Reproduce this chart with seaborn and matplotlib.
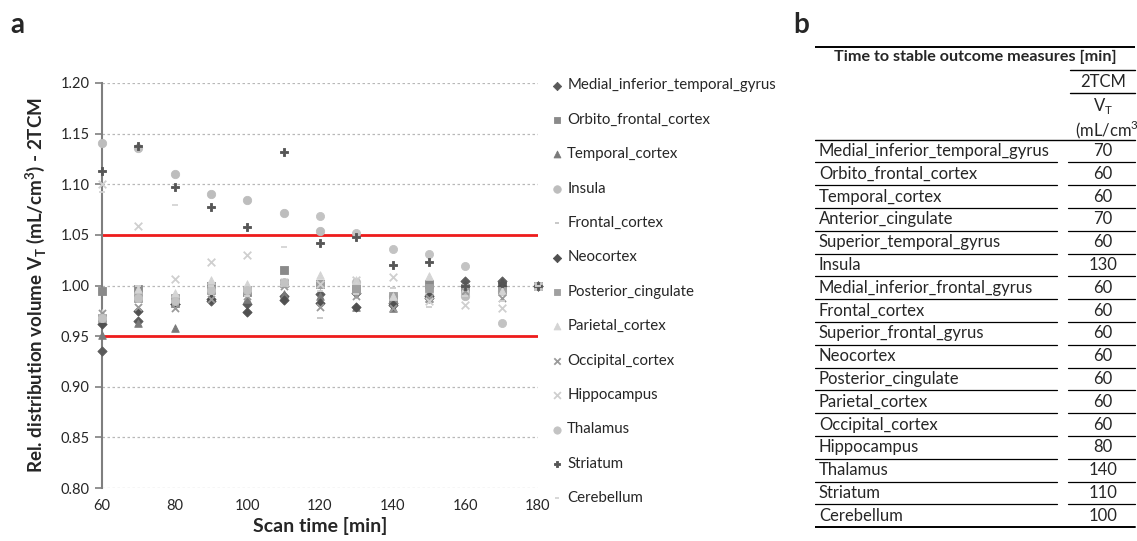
import numpy as np
import pandas as pd
import matplotlib
matplotlib.use("Agg")
import matplotlib.pyplot as plt
import seaborn as sns

# ---------------- data ----------------
scan_time = [60, 70, 80, 90, 100, 110, 120, 130, 140, 150, 160, 170, 180]

regions = ["Medial_inferior_temporal_gyrus", "Orbito_frontal_cortex", "Temporal_cortex",
           "Insula", "Frontal_cortex", "Neocortex", "Posterior_cingulate", "Parietal_cortex",
           "Occipital_cortex", "Hippocampus", "Thalamus", "Striatum", "Cerebellum"]

medial_inferior_temporal_gyrus = [0.935, 0.965, 0.982, 0.985, 0.982, 0.990, 0.992, 0.993, 0.983, 0.988, 1.004, 1.004, 1.000]
orbito_frontal_cortex = [0.995, 0.997, 0.983, 1.000, 0.994, 1.015, 1.001, 0.997, 0.986, 1.001, 0.998, 0.997, 1.000]
temporal_cortex = [0.951, 0.963, 0.958, 0.990, 0.987, 0.992, 0.990, 0.979, 0.978, 0.988, 0.997, 1.000, 1.000]
insula = [1.141, 1.136, 1.110, 1.090, 1.084, 1.072, 1.054, 1.003, 0.990, 0.991, 0.990, 0.995, 1.000]
frontal_cortex = [0.970, 0.990, 0.990, 0.995, 0.995, 1.000, 0.968, 0.995, 0.998, 0.979, 0.990, 0.985, 1.000]
neocortex = [0.962, 0.975, 0.982, 0.987, 0.974, 0.986, 0.983, 0.979, 0.981, 0.990, 1.000, 1.000, 1.000]
posterior_cingulate = [0.968, 0.988, 0.988, 0.996, 0.996, 1.002, 1.001, 0.997, 0.990, 0.998, 0.998, 0.995, 1.000]
parietal_cortex = [0.973, 0.997, 0.993, 1.005, 1.001, 1.003, 1.010, 1.005, 0.990, 1.009, 0.998, 0.995, 1.000]
occipital_cortex = [0.973, 0.979, 0.978, 0.987, 0.990, 1.000, 0.979, 0.990, 0.978, 0.988, 0.995, 0.988, 1.000]
hippocampus = [1.100, 1.059, 1.006, 1.023, 1.030, 1.003, 1.001, 1.005, 1.008, 0.985, 0.981, 0.978, 1.000]
thalamus = [0.968, 0.988, 0.985, 0.996, 0.996, 1.003, 1.069, 1.052, 1.036, 1.031, 1.019, 0.963, 1.000]
striatum = [1.113, 1.138, 1.097, 1.078, 1.058, 1.132, 1.042, 1.048, 1.020, 1.023, 1.000, 1.002, 1.000]
cerebellum = [1.092, 1.000, 1.080, 1.000, 0.990, 1.038, 0.995, 0.992, 0.998, 0.979, 0.990, 0.985, 1.000]

series_values = [medial_inferior_temporal_gyrus, orbito_frontal_cortex, temporal_cortex, insula,
                 frontal_cortex, neocortex, posterior_cingulate, parietal_cortex, occipital_cortex,
                 hippocampus, thalamus, striatum, cerebellum]

y_ticks = [0.80, 0.85, 0.90, 0.95, 1.00, 1.05, 1.10, 1.15, 1.20]
x_ticks = [60, 80, 100, 120, 140, 160, 180]
limits = [0.95, 1.05]

table_regions = ["Medial_inferior_temporal_gyrus", "Orbito_frontal_cortex", "Temporal_cortex",
                 "Anterior_cingulate", "Superior_temporal_gyrus", "Insula",
                 "Medial_inferior_frontal_gyrus", "Frontal_cortex", "Superior_frontal_gyrus",
                 "Neocortex", "Posterior_cingulate", "Parietal_cortex", "Occipital_cortex",
                 "Hippocampus", "Thalamus", "Striatum", "Cerebellum"]
table_values = [70, 60, 60, 70, 60, 130, 60, 60, 60, 60, 60, 60, 60, 80, 140, 110, 100]

# ---------------- styles ----------------
marker_styles = {
    "Medial_inferior_temporal_gyrus": ("D", "#5a5a5a", 22),
    "Orbito_frontal_cortex": ("s", "#8a8a8a", 26),
    "Temporal_cortex": ("^", "#7a7a7a", 30),
    "Insula": ("o", "#bdbdbd", 36),
    "Frontal_cortex": ("_", "#c4c4c4", 14),
    "Neocortex": ("D", "#505050", 22),
    "Posterior_cingulate": ("s", "#a0a0a0", 26),
    "Parietal_cortex": ("^", "#d4d4d4", 30),
    "Occipital_cortex": ("x", "#9a9a9a", 26),
    "Hippocampus": ("x", "#cfcfcf", 30),
    "Thalamus": ("o", "#c3c3c3", 34),
    "Striatum": ("P", "#555555", 30),
    "Cerebellum": ("_", "#d4d4d4", 14),
}

sns.set_style("white")
plt.rcParams["font.family"] = ["Lato", "DejaVu Sans"]

W, H = 1137, 541
fig = plt.figure(figsize=(W / 100, H / 100), dpi=100)

ax = fig.add_axes([102 / W, 1 - 488 / H, (538 - 102) / W, (488 - 83) / H])

for name, vals in zip(regions, series_values):
    mk, col, sz = marker_styles[name]
    df = pd.DataFrame({"t": scan_time, "v": vals})
    if mk in ("x", "_", "+"):
        kw = dict(linewidths=1.3)
    else:
        kw = dict(linewidth=0.6, edgecolor=col)
    sns.scatterplot(data=df, x="t", y="v", ax=ax, marker=mk, color=col, s=sz,
                    label=name, zorder=3, clip_on=False, **kw)

for lim in limits:
    ax.axhline(lim, color="#ee1c1c", lw=2.0, zorder=2)

ax.set_xlim(60, 180)
ax.set_ylim(0.80, 1.20)
ax.set_yticks(y_ticks)
ax.set_yticklabels([f"{v:.2f}" for v in y_ticks])
ax.set_xticks(x_ticks)
ax.yaxis.grid(True, color="#b8b8b8", ls=(0, (2, 2)), lw=0.9)
ax.xaxis.grid(False)
ax.set_axisbelow(True)
for s in ["top", "right", "bottom"]:
    ax.spines[s].set_visible(False)
ax.spines["left"].set_color("#7f7f7f")
ax.spines["left"].set_linewidth(1.5)
ax.tick_params(axis="y", length=5, width=1.2, color="#7f7f7f", labelsize=10.5, pad=4, direction="out", left=True)
ax.tick_params(axis="x", length=0, labelsize=10.5, pad=8)
ax.set_xlabel("Scan time [min]", fontsize=14, fontweight="bold", labelpad=3)
ax.set_ylabel(r"Rel. distribution volume V$_\mathregular{T}$ (mL/cm$^\mathregular{3}$) - 2TCM",
              fontsize=13.5, fontweight="bold", labelpad=9)

leg = ax.legend(loc="upper left", bbox_to_anchor=(1.012, 1.026), frameon=False, fontsize=10.8,
                labelspacing=1.36, handletextpad=0.2, handlelength=1.0, borderaxespad=0,
                markerscale=0.9)

fig.text(10 / W, 1 - 25 / H, "a", fontsize=20, fontweight="bold", va="center", ha="left")
fig.text(793 / W, 1 - 25 / H, "b", fontsize=20, fontweight="bold", va="center", ha="left")

# ---------------- table (panel b) ----------------
tx = fig.add_axes([815 / W, 0, (W - 815) / W, 1])
tx.set_xlim(815, W)
tx.set_ylim(H, 0)
tx.axis("off")

L, R = 815, 1135
name_end, val_start = 1057, 1068
val_center = 1103
fs = 12

tx.plot([L, R], [47, 47], color="black", lw=1.4, solid_capstyle="butt")
tx.text(975, 57, "Time to stable outcome measures [min]", fontsize=11.6, fontweight="bold",
        ha="center", va="center")
tx.plot([1070, R], [70, 70], color="black", lw=1.0)
tx.text(val_center, 82, "2TCM", fontsize=fs, ha="center", va="center")
tx.plot([1070, R], [93, 93], color="black", lw=1.0)
tx.text(val_center, 106, r"V$_\mathregular{T}$", fontsize=fs, ha="center", va="center")
tx.text(1075, 130, r"(mL/cm$^\mathregular{3}$", fontsize=fs, ha="left", va="center", clip_on=False)
tx.plot([L, R], [140, 140], color="black", lw=1.0)

y0, dy = 151, 22.8
for i, (nm, v) in enumerate(zip(table_regions, table_values)):
    yc = y0 + i * dy
    tx.text(819, yc, nm, fontsize=fs, ha="left", va="center")
    tx.text(val_center, yc, str(v), fontsize=fs, ha="center", va="center")
    yl = yc + dy / 2
    if i < len(table_regions) - 1:
        tx.plot([L, name_end], [yl, yl], color="black", lw=0.9)
        tx.plot([val_start, R], [yl, yl], color="black", lw=0.9)
    else:
        tx.plot([L, R], [yl, yl], color="black", lw=1.4)

fig.savefig("out.png", dpi=100)
